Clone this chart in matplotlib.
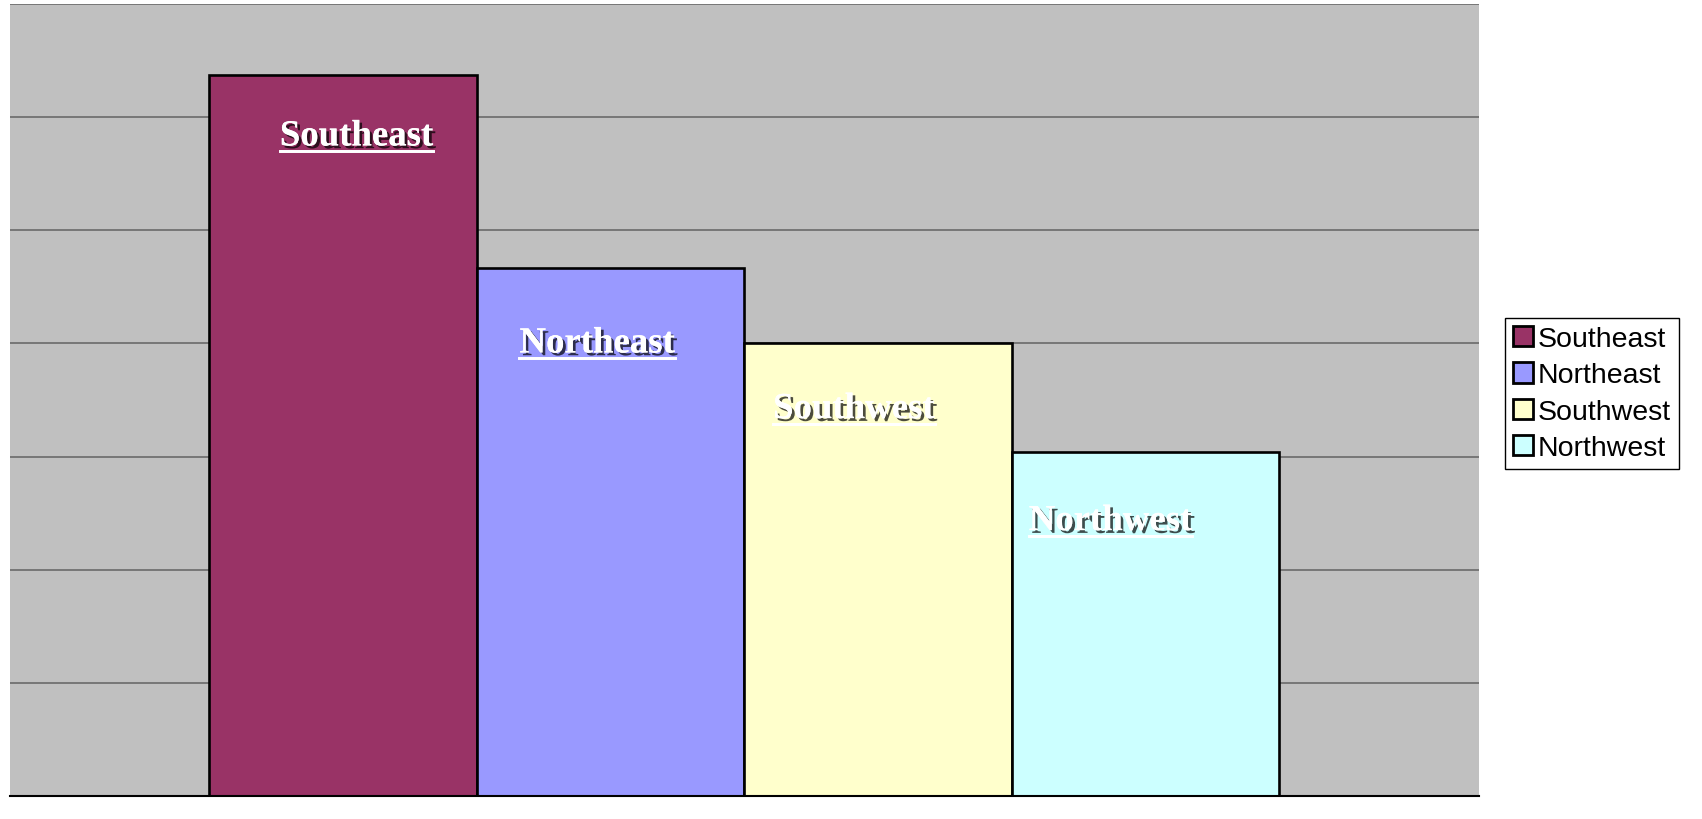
#Regional column chart with shadowed data labels and a legend on the right
import matplotlib
matplotlib.use('Agg')
import matplotlib.pyplot as plt
import matplotlib.patheffects as pe
from matplotlib.lines import Line2D

regions = ['Southeast', 'Northeast', 'Southwest', 'Northwest']
values = [6.37, 4.67, 4.0, 3.04]
colours = ['#993366', '#9999FF', '#FFFFCC', '#CCFFFF']

#label placement (offset from bar centre and below bar top), in data units
label_dx = [0.05, -0.05, -0.09, -0.13]
label_dy = [0.62, 0.75, 0.66, 0.69]

fig = plt.figure(figsize=(17.02, 8.2), dpi=100)
ax = fig.add_axes([10 / 1702, 23 / 820, 1469 / 1702, 792 / 820])
ax.set_facecolor('#C0C0C0')

xs = range(len(regions))
bars = ax.bar(xs, values, width=1.0, color=colours, edgecolor='black',
              linewidth=1.9, label=regions, zorder=3)

ax.set_xlim(-1.246, 4.248)
ax.set_ylim(0, 7)
for y in range(1, 8):
    ax.axhline(y, color='#6a6a6a', linewidth=1.2, zorder=1)

for side in ['left', 'right', 'top']:
    ax.spines[side].set_visible(False)
ax.spines['bottom'].set_color('black')
ax.spines['bottom'].set_linewidth(1.5)
ax.spines['bottom'].set_zorder(4)
ax.set_xticks([])
ax.set_yticks([])

shadow = [pe.withSimplePatchShadow(offset=(2, -2), shadow_rgbFace='black', alpha=0.7), pe.Normal()]
labels = []
for i in xs:
    t = ax.text(i + label_dx[i], values[i] - label_dy[i], regions[i],
                ha='center', va='baseline', color='white', fontsize=26.5,
                fontweight='bold', family='Liberation Serif', zorder=5)
    t.set_path_effects(shadow)
    labels.append(t)

#underline each label
fig.canvas.draw()
renderer = fig.canvas.get_renderer()
inv = fig.transFigure.inverted()
for t in labels:
    bb = t.get_window_extent(renderer)
    x0, y0 = inv.transform((bb.x0, bb.y0 + 2))
    x1, _ = inv.transform((bb.x1, bb.y0 + 2))
    ln = Line2D([x0, x1], [y0, y0], transform=fig.transFigure, color='white',
                linewidth=2, zorder=6)
    ln.set_path_effects(shadow)
    fig.add_artist(ln)

leg = fig.legend(handles=bars, labels=regions, loc='upper left',
                 bbox_to_anchor=(1505 / 1702, 1 - 319 / 820), frameon=True,
                 fancybox=False, edgecolor='black', framealpha=1,
                 prop={'family': 'Liberation Sans', 'size': 20.5},
                 handlelength=0.72, handleheight=0.72, handletextpad=0.15,
                 labelspacing=0.36, borderpad=0.28, borderaxespad=0)
leg.get_frame().set_linewidth(1.0)
for h in leg.legend_handles:
    h.set_linewidth(2.0)

fig.savefig('out.png', dpi=100)
